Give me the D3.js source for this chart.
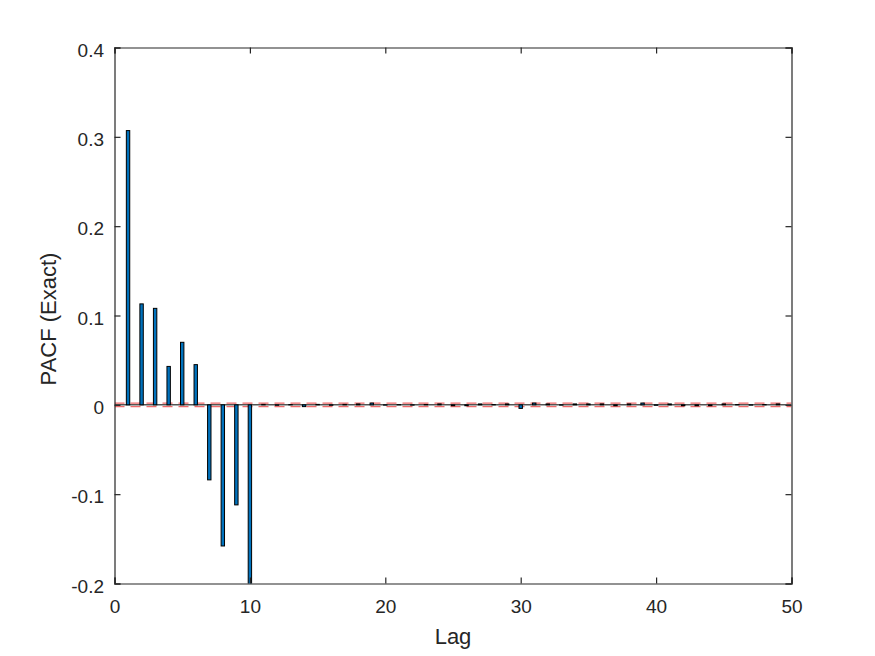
<!DOCTYPE html>
<html>
<head>
<meta charset="utf-8">
<script src="https://cdn.jsdelivr.net/npm/d3@7"></script>
<style>
  body { margin: 0; background: #fff; }
  text { font-family: "Liberation Sans", Arial, sans-serif; fill: #262626; }
</style>
</head>
<body>
<svg width="875" height="656"></svg>
<script>
// lags and partial autocorrelations
var lags = d3.range(1, 51)
var pacf = [0.307, 0.113, 0.108, 0.043, 0.070, 0.045, -0.084, -0.158, -0.112, -0.205,
            0.0005, -0.0005, 0.0003, -0.002, 0.0005, -0.0005, 0.0005, 0.001, 0.002, -0.0003,
            0.0002, -0.0003, 0.0004, 0.001, -0.001, -0.001, 0.001, 0.0003, 0.001, -0.004,
            0.002, 0.001, -0.0003, 0.001, 0.001, 0.001, -0.001, 0.001, 0.002, -0.0005,
            0.001, -0.001, -0.001, -0.001, 0.001, 0.0003, -0.0003, 0.0003, 0.001, 0]
var bounds = [0.002, -0.002]
var xTicks = [0, 10, 20, 30, 40, 50]
var yTicks = [-0.2, -0.1, 0, 0.1, 0.2, 0.3, 0.4]

var margins = {top: 47.5, right: 83.5, bottom: 72.5, left: 114.5}
var width = 875 - margins.left - margins.right
var height = 656 - margins.top - margins.bottom

var svg = d3.select("svg")

var xScale = d3.scaleLinear()
                .domain([0, 50])
                .range([0, width])

var yScale = d3.scaleLinear()
                .domain([-0.2, 0.4])
                .range([height, 0])

var plot = svg.append("g")
    .attr("transform", "translate(" + margins.left + "," + margins.top + ")")

svg.append("defs").append("clipPath").attr("id", "clip")
    .append("rect").attr("width", width).attr("height", height)

var inner = plot.append("g").attr("clip-path", "url(#clip)")

// confidence bounds
inner.selectAll(".bound")
    .data(bounds)
    .enter()
    .append("line")
    .attr("x1", 0)
    .attr("x2", width)
    .attr("y1", function(b){return yScale(b)})
    .attr("y2", function(b){return yScale(b)})
    .attr("stroke", "#ef6b6b")
    .attr("stroke-width", 1.2)
    .attr("stroke-dasharray", "10,6")

// zero line
inner.append("line")
    .attr("x1", 0)
    .attr("x2", width)
    .attr("y1", yScale(0))
    .attr("y2", yScale(0))
    .attr("stroke", "#000")
    .attr("stroke-width", 1)

// bars
var barW = 3.4
inner.selectAll(".bar")
    .data(lags)
    .enter()
    .append("rect")
    .attr("x", function(l){return xScale(l) - barW / 2})
    .attr("y", function(l, i){return yScale(Math.max(0, pacf[i]))})
    .attr("width", barW)
    .attr("height", function(l, i){return Math.abs(yScale(pacf[i]) - yScale(0))})
    .attr("fill", "#0072BD")
    .attr("stroke", "#000")
    .attr("stroke-width", 1)

// axes on all four sides, ticks pointing in
var tickLen = 6
var fmt = function(d){return String(+d.toFixed(1))}
var xAxis = d3.axisBottom(xScale).tickValues(xTicks).tickSize(-tickLen).tickPadding(16).tickFormat(fmt)
var yAxis = d3.axisLeft(yScale).tickValues(yTicks).tickSize(-tickLen).tickPadding(10.5).tickFormat(fmt)

var gx = plot.append("g")
    .attr("transform", "translate(0," + height + ")")
    .call(xAxis)
var gy = plot.append("g")
    .call(yAxis)
var gxTop = plot.append("g")
    .call(d3.axisTop(xScale).tickValues(xTicks).tickSize(-tickLen).tickFormat(""))
var gyRight = plot.append("g")
    .attr("transform", "translate(" + width + ",0)")
    .call(d3.axisRight(yScale).tickValues(yTicks).tickSize(-tickLen).tickFormat(""))

;[gx, gy, gxTop, gyRight].forEach(function(g){
    g.selectAll("path.domain").attr("stroke", "#262626").attr("stroke-width", 1.2)
    g.selectAll(".tick line").attr("stroke", "#262626").attr("stroke-width", 1.2)
    g.selectAll(".tick text").style("font-size", "19px").attr("fill", "#262626")
        .style("font-family", "'Liberation Sans', Arial, sans-serif")
})
gx.selectAll(".tick text").attr("dy", "0.71em")
gy.selectAll(".tick text").attr("dy", "0.45em")

// labels
svg.append("text")
    .attr("x", margins.left + width / 2)
    .attr("y", 644)
    .attr("text-anchor", "middle")
    .style("font-size", "22px")
    .text("Lag")

svg.append("text")
    .attr("transform", "translate(56,319) rotate(-90)")
    .attr("text-anchor", "middle")
    .style("font-size", "22px")
    .text("PACF (Exact)")
</script>
</body>
</html>
